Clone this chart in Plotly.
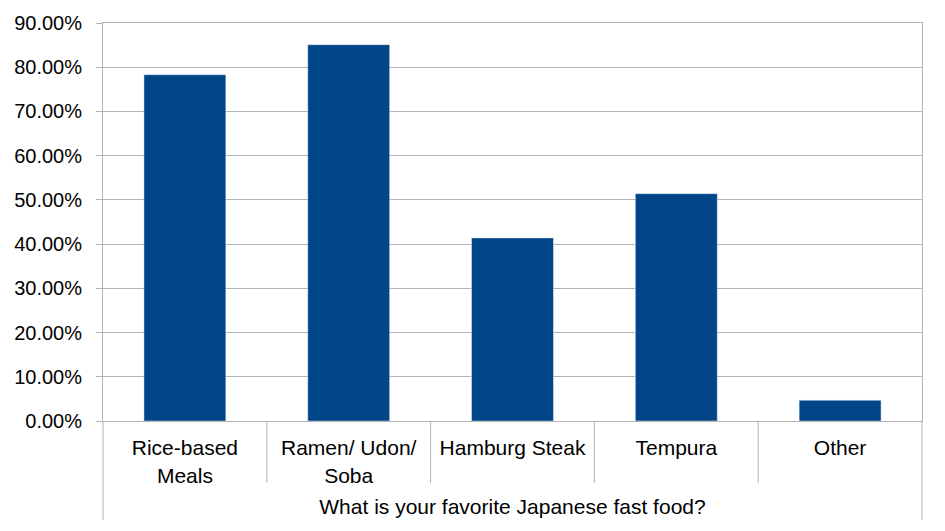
import plotly.graph_objects as go

categories = ["Rice-based<br>Meals", "Ramen/ Udon/<br>Soba", "Hamburg Steak", "Tempura", "Other"]
values = [0.783, 0.851, 0.414, 0.514, 0.047]
y_ticks = [0, 0.1, 0.2, 0.3, 0.4, 0.5, 0.6, 0.7, 0.8, 0.9]
axis_title = "What is your favorite Japanese fast food?"

GRID = "#b3b3b3"
FONT = "Liberation Sans, Arial, sans-serif"

fig = go.Figure(go.Bar(x=list(range(len(categories))), y=values,
                       marker_color="#004586", width=0.5))

shapes = []
n = len(categories)
for i in range(n + 1):
    edge = i in (0, n)
    shapes.append(dict(type="line", xref="paper", yref="paper", ysizemode="pixel",
                       yanchor=0, x0=i / n, x1=i / n, y0=0,
                       y1=-99 if edge else -62,
                       line=dict(color=GRID, width=1)))

fig.update_layout(
    width=945, height=531,
    margin=dict(l=95, r=31, t=15, b=118),
    paper_bgcolor="white", plot_bgcolor="white",
    font=dict(family=FONT, size=20, color="black"),
    showlegend=False,
    shapes=shapes,
    xaxis=dict(range=[-0.5, n - 0.5], tickmode="array",
               tickvals=list(range(n)), ticktext=categories,
               tickfont=dict(size=21),
               showgrid=False, ticks="", ticklabelstandoff=8,
               showline=True, linecolor=GRID, linewidth=1, mirror=True,
               zeroline=False, automargin=False,
               title=dict(text=axis_title, standoff=13, font=dict(size=21))),
    yaxis=dict(range=[0, 0.9], tickvals=y_ticks, tickformat=".2%",
               showgrid=True, gridcolor=GRID, gridwidth=1,
               ticks="outside", ticklen=6, tickcolor=GRID,
               ticklabelstandoff=10, automargin=False,
               showline=True, linecolor=GRID, linewidth=1, mirror=True,
               zeroline=False),
)

fig.write_html("out.html")
